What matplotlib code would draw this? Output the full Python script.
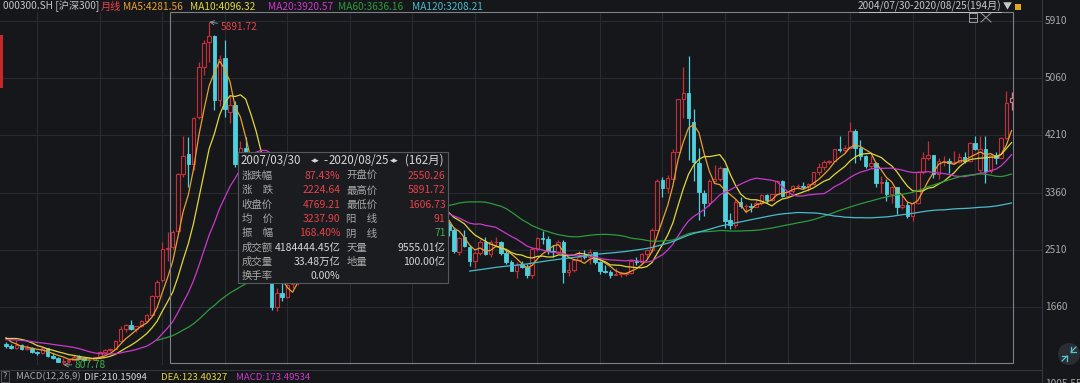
import numpy as np
import pandas as pd
import matplotlib
matplotlib.use('Agg')
import matplotlib.pyplot as plt
from matplotlib.patches import Rectangle, Ellipse
from matplotlib.lines import Line2D

plt.rcParams['font.family'] = ['Noto Sans CJK SC', 'DejaVu Sans']

# ---------------- data: CSI 300 monthly candles 2004/07 - 2020/08 ----------------
months = pd.period_range('2004-07', '2020-08', freq='M')

# closes before the visible window (2002/01 - 2004/06), only used for the moving averages
pre_closes = [1178, 1204, 1266, 1317, 1197, 1369, 1334, 1327, 1249, 1191, 1139, 1073,
              1184, 1194, 1193, 1202, 1245, 1175, 1166, 1123, 1080, 1065, 1104, 1183,
              1256, 1323, 1376, 1260, 1228, 1105]

opens = [1110, 1085, 1060, 1105, 1045, 1060,
         1000, 982, 1050, 935, 915, 855, 870, 880, 925, 915, 875, 880,
         923, 1000, 1030, 1045, 1160, 1340, 1400, 1340, 1380, 1465, 1550, 1830,
         2060, 2530, 2550.26, 2790, 3640, 3930, 3790, 4480, 5230, 5600, 5690, 4740,
         5357, 4560, 4660, 3790, 4020, 3850, 3000, 3050, 2600, 2430, 1660, 1870,
         1820, 2000, 2070, 2380, 2520, 2700, 3130, 3690, 2880, 3000, 3380, 3530,
         3580, 3200, 3290, 3350, 3060, 2770, 2560, 2870, 2905, 2945, 3390, 3225,
         3130, 3080, 3240, 3230, 3090, 2910, 3050, 2900, 2810, 2485, 2700, 2560,
         2345, 2460, 2630, 2450, 2626, 2630, 2460, 2330, 2200, 2290, 2254, 2140,
         2525, 2690, 2670, 2495, 2470, 2630, 2180, 2210, 2355, 2410, 2405, 2474,
         2330, 2200, 2178, 2146, 2158, 2160, 2165, 2351, 2327, 2450, 2508, 2810,
         3550, 3430, 3570, 3970, 4750, 4840, 4410, 3800, 3360, 3200, 3540, 3570,
         3725, 2950, 2880, 3218, 3156, 3169, 3154, 3203, 3327, 3253, 3336, 3538,
         3310, 3387, 3452, 3456, 3439, 3493, 3666, 3737, 3822, 3837, 4006, 4000,
         4030, 4275, 4023, 3899, 3756, 3802, 3510, 3517, 3335, 3438, 3153, 3172,
         3010, 3201, 3669, 3872, 3913, 3630, 3825, 3835, 3799, 3814, 3886, 3828,
         4096, 3700, 4004, 3686, 3912, 3867, 4164, 4700]

highs = [1140, 1110, 1175, 1120, 1095, 1075,
         1010, 1070, 1060, 990, 925, 905, 895, 950, 950, 920, 890, 930,
         1010, 1045, 1060, 1170, 1380, 1420, 1470, 1390, 1470, 1560, 1840, 2060,
         2630, 2770, 2800, 3650, 4200, 4180, 4480, 5300, 5620, 5891.72, 5700, 5400,
         5620, 4790, 4720, 4120, 4180, 3880, 3200, 3080, 2700, 2460, 1950, 2080,
         2020, 2290, 2420, 2580, 2740, 3130, 3800, 3800, 3150, 3370, 3620, 3600,
         3600, 3330, 3380, 3440, 3090, 2860, 2900, 2980, 2960, 3500, 3600, 3360,
         3150, 3270, 3340, 3360, 3120, 3060, 3140, 2950, 2850, 2700, 2800, 2580,
         2490, 2680, 2710, 2660, 2700, 2650, 2510, 2360, 2330, 2340, 2300, 2560,
         2700, 2790, 2720, 2580, 2660, 2660, 2330, 2370, 2500, 2510, 2520, 2480,
         2340, 2290, 2210, 2250, 2180, 2190, 2360, 2410, 2470, 2530, 2830, 3560,
         3600, 3620, 4010, 4750, 5220, 5380, 4600, 4020, 3400, 3560, 3770, 3760,
         3730, 3060, 3260, 3300, 3190, 3200, 3260, 3340, 3340, 3340, 3550, 3550,
         3390, 3480, 3490, 3520, 3500, 3670, 3800, 3840, 3850, 4010, 4205, 4060,
         4403, 4300, 4140, 3920, 3910, 3810, 3610, 3560, 3460, 3450, 3320, 3220,
         3210, 3680, 3960, 4127, 3920, 3870, 3900, 3880, 3980, 3950, 3970, 4110,
         4200, 4200, 4200, 3940, 3970, 4180, 4870, 4860]

lows = [1060, 1045, 1040, 1030, 1025, 990,
        955, 975, 930, 900, 845, 807.78, 835, 875, 905, 860, 855, 875,
        920, 985, 1010, 1040, 1150, 1300, 1320, 1290, 1370, 1440, 1540, 1800,
        2040, 2350, 2520, 2770, 3600, 3450, 3700, 4450, 5100, 5300, 4580, 4650,
        4480, 4390, 3740, 3300, 3800, 2950, 2850, 2450, 2150, 1620, 1606.73, 1750,
        1800, 1950, 1990, 2330, 2470, 2690, 3110, 2850, 2700, 2990, 3350, 3370,
        3180, 3100, 3240, 3050, 2680, 2480, 2520, 2800, 2780, 2940, 3040, 3080,
        2890, 3030, 3140, 3060, 2880, 2760, 2880, 2720, 2470, 2440, 2550, 2270,
        2250, 2440, 2440, 2400, 2560, 2440, 2300, 2200, 2100, 2250, 2100, 2100,
        2500, 2600, 2450, 2410, 2460, 2023, 2130, 2180, 2340, 2380, 2310, 2310,
        2160, 2170, 2090, 2140, 2110, 2120, 2150, 2290, 2310, 2380, 2480, 2800,
        3300, 3360, 3560, 3960, 4470, 3847, 3537, 2952, 3020, 3170, 3520, 3540,
        2840, 2820, 2830, 3140, 3060, 3070, 3150, 3180, 3200, 3240, 3320, 3290,
        3290, 3350, 3420, 3420, 3380, 3480, 3620, 3690, 3780, 3830, 3970, 3950,
        4030, 3800, 3850, 3720, 3730, 3450, 3360, 3230, 3200, 3050, 3120, 2990,
        2935, 3190, 3640, 3850, 3580, 3560, 3760, 3650, 3780, 3800, 3800, 3820,
        3990, 3650, 3503, 3650, 3780, 3860, 4160, 4580]

closes = [1085, 1060, 1105, 1045, 1060, 1000,
          982, 1050, 935, 915, 855, 870, 880, 925, 915, 875, 880, 923,
          1000, 1030, 1045, 1160, 1340, 1400, 1340, 1380, 1465, 1550, 1830, 2041,
          2520, 2544.57, 2781, 3638, 3904, 3780, 4471, 5220, 5575, 5690, 4740, 5338,
          4600, 4660, 3790, 4020, 3850, 3000, 3050, 2600, 2430, 1663, 1870, 1817,
          1990, 2080, 2370, 2520, 2700, 3120, 3690, 2880, 2995, 3370, 3530, 3575,
          3204, 3282, 3346, 3068, 2765, 2564, 2868, 2903, 2935, 3380, 3225, 3128,
          3077, 3239, 3223, 3093, 2916, 3044, 2900, 2813, 2489, 2695, 2564, 2346,
          2464, 2634, 2454, 2626, 2633, 2461, 2333, 2205, 2293, 2254, 2139, 2523,
          2686, 2673, 2495, 2474, 2627, 2178, 2210, 2355, 2409, 2408, 2474, 2331,
          2202, 2178, 2146, 2158, 2160, 2165, 2351, 2327, 2450, 2508, 2808, 3533,
          3434, 3572, 3966, 4749, 4840, 4473, 3816, 3366, 3202, 3534, 3566, 3731,
          2946, 2877, 3218, 3156, 3169, 3154, 3203, 3327, 3253, 3336, 3538, 3310,
          3387, 3452, 3456, 3439, 3493, 3666, 3737, 3822, 3837, 4006, 3998, 4030,
          4275, 4023, 3899, 3756, 3802, 3510, 3517, 3335, 3438, 3153, 3172, 3010,
          3201, 3669, 3872, 3913, 3630, 3825, 3835, 3799, 3814, 3886, 3828, 4096,
          4003, 4004, 3686, 3912, 3867, 4164, 4695, 4769.21]

ma_periods = [5, 10, 20, 60, 120]
ma_colors = ['#e8a030', '#e0d83a', '#cc38cc', '#2d9a3c', '#48bccc']
ma_last = ['4281.56', '4096.32', '3920.57', '3636.16', '3208.21']
y_ticks = [1660, 2510, 3360, 4210, 5060, 5910]

# statistics panel of the selected range
sel_start = '2007-03'
stat_left = ['涨跌幅', '涨\u3000跌', '收盘价', '均\u3000价', '振\u3000幅', '成交额', '成交量', '换手率']
stat_left_val = ['87.43%', '2224.64', '4769.21', '3237.90', '168.40%', '4184444.45亿', '33.48万亿', '0.00%']
stat_right = ['开盘价', '最高价', '最低价', '阳\u3000线', '阴\u3000线', '天量', '地量', '']
stat_right_val = ['2550.26', '5891.72', '1606.73', '91', '71', '9555.01亿', '100.00亿', '']

# ---------------- colours ----------------
BG = '#16171b'
GRID = '#272a2f'
UP = '#c3303a'
DOWN = '#4fd0dc'
RED_T = '#e8414a'
GREEN_T = '#3cb050'
GRAY_T = '#a8a8a8'
WHITE_T = '#d6d6d6'

W, H = 1080, 383
fig = plt.figure(figsize=(W / 100, H / 100), dpi=100, facecolor=BG)


def fx(x):
    return x / W


def fy(y):
    return 1 - y / H


# main price panel (pixel layout of the reference)
ax = fig.add_axes([0, fy(365), fx(1042), (365 - 12) / H])
ax.set_facecolor(BG)
for s in ax.spines.values():
    s.set_visible(False)
ax.set_xticks([])
ax.set_yticks([])

step = 5.21
ax.set_xlim(-6 / step, (1042 - 6) / step)
v_per_px = 850 / 57.33
ax.set_ylim(5910 - (365 - 20.7) * v_per_px, 5910 + (20.7 - 12) * v_per_px)

idx = np.arange(len(months))
o = np.array(opens, float)
h = np.array(highs, float)
l = np.array(lows, float)
c = np.array(closes, float)

# grid
for t in y_ticks:
    ax.axhline(t, color=GRID, lw=0.8, zorder=0)
for i, m in enumerate(months):
    if m.month == 1:
        ax.axvline(i, color=GRID, lw=0.8, zorder=0)

# candles
up = c >= o
col_up = [UP] * len(idx)
col_up[-1] = '#f07886'
for i in idx:
    colr = col_up[i] if up[i] else DOWN
    ax.vlines(i, l[i], h[i], color=colr, lw=0.9, zorder=2)
body_b = np.minimum(o, c)
body_h = np.maximum(np.abs(c - o), 8)
ax.bar(idx[up], body_h[up], bottom=body_b[up], width=0.68,
       facecolor=BG, edgecolor=[col_up[i] for i in idx[up]], lw=0.8, zorder=3)
ax.bar(idx[~up], body_h[~up], bottom=body_b[~up], width=0.68,
       facecolor=DOWN, edgecolor=DOWN, lw=0.6, zorder=3)

# moving averages
all_close = pd.Series(pre_closes + closes, dtype=float)
for n, col in zip(ma_periods, ma_colors):
    ma = all_close.rolling(n).mean().to_numpy()[len(pre_closes):]
    ax.plot(idx, ma, color=col, lw=0.9, zorder=4)

# high / low markers
i_hi = int(np.argmax(h))
i_lo = int(np.argmin(l))
ax.annotate('%.2f' % h[i_hi], xy=(i_hi, h[i_hi]), xytext=(8, -3.5), textcoords='offset points',
            color=RED_T, fontsize=7.3, va='center', ha='left', zorder=6,
            arrowprops=dict(arrowstyle='->', color='#8c8f95', lw=0.7, shrinkA=0, shrinkB=0))
ax.annotate('%.2f' % l[i_lo], xy=(i_lo, l[i_lo]), xytext=(8, 0), textcoords='offset points',
            color=GREEN_T, fontsize=7.3, va='center', ha='left', zorder=6, annotation_clip=False,
            arrowprops=dict(arrowstyle='->', color='#8c8f95', lw=0.7, shrinkA=0, shrinkB=0))

# selected range frame
i_sel = list(months.strftime('%Y-%m')).index(sel_start)
ax.add_patch(Rectangle((i_sel - 0.5, 0.005), idx[-1] + 0.2 - (i_sel - 0.5), 0.995,
                       transform=ax.get_xaxis_transform(), fill=False,
                       edgecolor='#7d8086', lw=0.8, zorder=5, clip_on=False))


# ---------------- figure level decorations ----------------
def fline(x0, y0, x1, y1, col, lw=0.8):
    fig.add_artist(Line2D([fx(x0), fx(x1)], [fy(y0), fy(y1)], color=col, lw=lw))


def ftext(x, y, s, col, size=7.3, ha='left', va='center', **kw):
    return fig.text(fx(x), fy(y), s, color=col, fontsize=size, ha=ha, va=va, **kw)


fline(1042, 0, 1042, H, '#34373c')
fline(0, 369.5, 1042, 369.5, '#34373c')

for t in y_ticks:
    yp = 20.7 + (5910 - t) / v_per_px
    ftext(1045, yp, str(t), GRAY_T)
ftext(1045, 379, '1005.55', GRAY_T, va='top')

# header
header = [(3, '000300.SH [沪深300]', '#c8c8c8'), (101, '月线', RED_T)]
xs = [123, 190, 268, 338, 412]
for x0, n, v, col in zip(xs, ma_periods, ma_last, ma_colors):
    header.append((x0, 'MA%d:%s' % (n, v), col))
for x0, s, col in header:
    ftext(x0, 6.5, s, col)
ftext(1001, 6.5, '2004/07/30-2020/08/25(194月)', '#c8c8c8', ha='right')
fline(859, 12, 1001, 12, '#c8c8c8', 0.6)
ftext(1007, 6.5, '▼', '#c8c8c8', size=6.5, ha='center')
fig.add_artist(Rectangle((fx(1015), fy(10)), fx(6), 6 / H, transform=fig.transFigure,
                         facecolor='#e0a820', edgecolor='none'))

# box close icons
fig.add_artist(Rectangle((fx(969), fy(22)), fx(8), 9 / H, transform=fig.transFigure,
                         fill=False, edgecolor='#9a9da2', lw=0.7))
fline(969, 17.5, 977, 17.5, '#9a9da2', 0.7)
fline(981, 13, 991, 22, '#9a9da2', 0.7)
fline(981, 22, 991, 13, '#9a9da2', 0.7)

# left edge marker
fig.add_artist(Rectangle((0, fy(88)), fx(3), 53 / H, transform=fig.transFigure,
                         facecolor='#c62828', edgecolor='none'))

# MACD line
fig.add_artist(Rectangle((fx(1), fy(382)), fx(8), 11 / H, transform=fig.transFigure,
                         fill=False, edgecolor='#55585e', lw=0.7))
ftext(5, 376.5, '?', GRAY_T, size=6.5, ha='center')
macd = [(16, 'MACD(12,26,9)', GRAY_T), (84, 'DIF:210.15094', WHITE_T),
        (161, 'DEA:123.40327', '#e0d83a'), (236, 'MACD:173.49534', '#cc38cc')]
for x0, s, col in macd:
    ftext(x0, 377, s, col, size=6.9)

# zoom button bottom right
fig.add_artist(Ellipse((fx(1069), fy(354)), fx(22), 22 / H, transform=fig.transFigure,
                       facecolor='#2a2d32', edgecolor='none'))
fline(1062, 361, 1067, 356, '#4fc8d8', 0.9)
fline(1071, 352, 1076, 347, '#4fc8d8', 0.9)
fline(1062, 356, 1067, 356, '#4fc8d8', 0.9)
fline(1067, 356, 1067, 361, '#4fc8d8', 0.9)
fline(1071, 352, 1076, 352, '#4fc8d8', 0.9)
fline(1071, 352, 1071, 347, '#4fc8d8', 0.9)

# statistics table
tl, tr, tt, th_b = 238, 448, 152, 169
rh = 14.3
cols_x = [238, 277.7, 343.3, 383.3, 448]
tb = th_b + rh * len(stat_left)
fig.add_artist(Rectangle((fx(tl), fy(tb)), fx(tr - tl), (tb - tt) / H,
                         transform=fig.transFigure, facecolor='#1b1c20',
                         edgecolor='#55585e', lw=0.8, zorder=10))
fline(tl, th_b, tr, th_b, '#55585e')
for k in range(1, len(stat_left)):
    fline(tl, th_b + rh * k, tr, th_b + rh * k, '#55585e')
for xc in cols_x[1:-1]:
    fline(xc, th_b, xc, tb, '#55585e')

hdr_y = (tt + th_b) / 2
clip = Rectangle((fx(tl), fy(tb)), fx(tr - tl - 1), (tb - tt) / H, transform=fig.transFigure)
ftext(241, hdr_y, '2007/03/30', WHITE_T, size=8.3, zorder=11)
ftext(311, hdr_y, '◂▸', WHITE_T, size=6.3, zorder=11)
ftext(323, hdr_y, '-', WHITE_T, size=8.3, zorder=11)
ftext(329, hdr_y, '2020/08/25', WHITE_T, size=8.3, zorder=11)
ftext(390, hdr_y, '◂▸', WHITE_T, size=6.3, zorder=11)
t = ftext(405, hdr_y, '(162月)', WHITE_T, size=8.3, zorder=11)
t.set_clip_path(clip)

val_cols = [RED_T] * 5 + [WHITE_T] * 3
rval_cols = [RED_T] * 4 + [GREEN_T] + [WHITE_T] * 3
for k in range(len(stat_left)):
    yc = th_b + rh * (k + 0.5)
    ftext(241.5, yc, stat_left[k], GRAY_T, size=7.5, zorder=11)
    ftext(340.5, yc, stat_left_val[k], val_cols[k], size=7.5, ha='right', zorder=12)
    ftext(346.5, yc, stat_right[k], GRAY_T, size=7.5, zorder=11)
    ftext(445.5, yc, stat_right_val[k], rval_cols[k], size=7.5, ha='right', zorder=11)

fig.savefig('out.png', dpi=100, facecolor=BG)
